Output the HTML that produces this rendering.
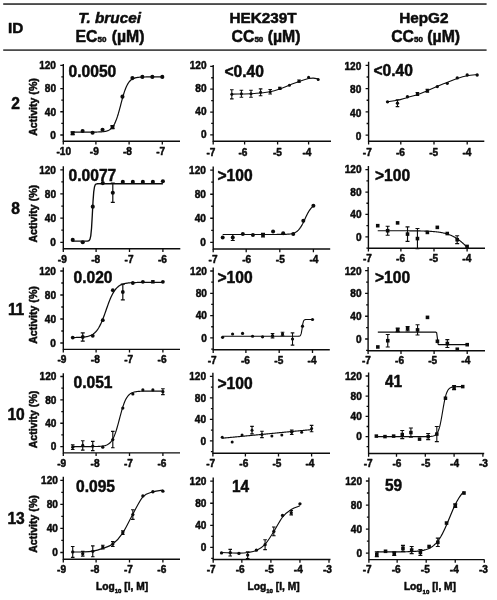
<!DOCTYPE html>
<html lang="en"><head><meta charset="utf-8"><title>Activity table</title>
<style>
html,body{margin:0;padding:0;background:#fff;}
body{width:497px;height:600px;overflow:hidden;}
svg{display:block;filter:blur(.4px);font-family:"Liberation Sans",Arial,Helvetica,sans-serif;font-weight:bold;fill:#0c0c0c;}
text{stroke:#0c0c0c;stroke-width:.5px;stroke-linejoin:round;}
.t{font-size:11px;}
.v{font-size:16.6px;}
.h{font-size:15.3px;}
.h2{font-size:15.8px;}
.s{font-size:8px;}
.id{font-size:17px;}
.a{font-size:10.6px;}
.xl{font-size:10.2px;}
.xs{font-size:6.1px;}
</style></head><body>
<svg width="497" height="600" viewBox="0 0 497 600">
<rect width="497" height="600" fill="#fff"/>
<rect x="3.2" y="3.2" width="483.4" height="1.7" fill="#383838"/>
<rect x="3.2" y="49.3" width="483.4" height="1.6" fill="#383838"/>
<text x="8" y="33" class="h">ID</text>
<text x="109.6" y="22.8" text-anchor="middle" class="h" font-style="italic">T. brucei</text>
<text x="110" y="42.1" text-anchor="middle" class="h2" word-spacing="1">EC<tspan class="s">50</tspan> (µM)</text>
<text x="263" y="22.8" text-anchor="middle" class="h">HEK239T</text>
<text x="266" y="42.1" text-anchor="middle" class="h2">CC<tspan class="s">50</tspan> (µM)</text>
<text x="423.8" y="22.8" text-anchor="middle" class="h">HepG2</text>
<text x="425.6" y="42.1" text-anchor="middle" class="h2">CC<tspan class="s">50</tspan> (µM)</text>
<text transform="translate(15.5 109) scale(.92 1)" text-anchor="middle" class="id">2</text>
<text transform="translate(15.5 214) scale(.92 1)" text-anchor="middle" class="id">8</text>
<text transform="translate(16.0 315.3) scale(.92 1)" text-anchor="middle" class="id" letter-spacing="-.3">11</text>
<text transform="translate(16.0 419.8) scale(.92 1)" text-anchor="middle" class="id" letter-spacing="-.3">10</text>
<text transform="translate(16.0 524.3) scale(.92 1)" text-anchor="middle" class="id" letter-spacing="-.3">13</text>
<text transform="translate(36.5 107) rotate(-90)" text-anchor="middle" class="a">Activity (%)</text>
<text transform="translate(36.5 213.7) rotate(-90)" text-anchor="middle" class="a">Activity (%)</text>
<text transform="translate(36.5 315) rotate(-90)" text-anchor="middle" class="a">Activity (%)</text>
<text transform="translate(36.5 419.5) rotate(-90)" text-anchor="middle" class="a">Activity (%)</text>
<text transform="translate(36.5 524) rotate(-90)" text-anchor="middle" class="a">Activity (%)</text>
<g>
<path d="M63.3 63.9V141.3H180" fill="none" stroke="#0c0c0c" stroke-width="1.4"/>
<path d="M63.3 65.3h-3M63.3 76.92h-2M63.3 88.53h-3M63.3 100.15h-2M63.3 111.77h-3M63.3 123.38h-2M63.3 135h-3" stroke="#0c0c0c" stroke-width="1.3" fill="none"/>
<text transform="translate(56 69.1) scale(.92 1)" text-anchor="end" class="t">120</text>
<text transform="translate(56 92.33) scale(.92 1)" text-anchor="end" class="t">80</text>
<text transform="translate(56 115.57) scale(.92 1)" text-anchor="end" class="t">40</text>
<text transform="translate(56 138.8) scale(.92 1)" text-anchor="end" class="t">0</text>
<path d="M63.3 141.3v3.2M95.9 141.3v3.2M129.1 141.3v3.2M162.3 141.3v3.2" stroke="#0c0c0c" stroke-width="1.3" fill="none"/>
<text transform="translate(63.7 155.3) scale(.92 1)" text-anchor="middle" class="t">-10</text>
<text transform="translate(94.3 155.3) scale(.92 1)" text-anchor="middle" class="t">-9</text>
<text transform="translate(127.5 155.3) scale(.92 1)" text-anchor="middle" class="t">-8</text>
<text transform="translate(160.7 155.3) scale(.92 1)" text-anchor="middle" class="t">-7</text>
<path d="M72.66 132.1L73.41 132.1L74.15 132.1L74.9 132.1L75.65 132.1L76.4 132.1L77.14 132.1L77.89 132.1L78.64 132.1L79.38 132.1L80.13 132.1L80.88 132.09L81.62 132.09L82.37 132.09L83.12 132.09L83.87 132.09L84.61 132.09L85.36 132.09L86.11 132.09L86.85 132.09L87.6 132.09L88.35 132.09L89.09 132.09L89.84 132.09L90.59 132.08L91.34 132.08L92.08 132.08L92.83 132.07L93.58 132.07L94.32 132.06L95.07 132.05L95.82 132.04L96.56 132.03L97.31 132.01L98.06 132L98.81 131.97L99.55 131.94L100.3 131.91L101.05 131.87L101.79 131.81L102.54 131.75L103.29 131.67L104.03 131.57L104.78 131.46L105.53 131.31L106.28 131.13L107.02 130.91L107.77 130.65L108.52 130.33L109.26 129.94L110.01 129.46L110.76 128.89L111.5 128.21L112.25 127.39L113 126.41L113.75 125.27L114.49 123.93L115.24 122.38L115.99 120.6L116.73 118.61L117.48 116.38L118.23 113.96L118.97 111.35L119.72 108.6L120.47 105.78L121.21 102.92L121.96 100.1L122.71 97.37L123.46 94.78L124.2 92.37L124.95 90.17L125.7 88.2L126.44 86.45L127.19 84.93L127.94 83.61L128.69 82.48L129.43 81.53L130.18 80.72L130.93 80.05L131.67 79.49L132.42 79.03L133.17 78.65L133.91 78.33L134.66 78.07L135.41 77.86L136.16 77.69L136.9 77.54L137.65 77.43L138.4 77.33L139.14 77.25L139.89 77.19L140.64 77.14L141.38 77.1L142.13 77.06L142.88 77.04L143.62 77.01L144.37 77L145.12 76.98L145.87 76.97L146.61 76.96L147.36 76.95L148.11 76.94L148.85 76.94L149.6 76.94L150.35 76.93L151.09 76.93L151.84 76.93L152.59 76.92L153.34 76.92L154.08 76.92L154.83 76.92L155.58 76.92L156.32 76.92L157.07 76.92L157.82 76.92L158.56 76.92L159.31 76.92L160.06 76.92L160.81 76.92L161.55 76.92L162.3 76.92" fill="none" stroke="#0c0c0c" stroke-width="1.2" stroke-linejoin="round"/>
<rect x="70.77" y="131.37" width="3.77" height="3.77" fill="#0c0c0c"/>
<circle cx="82.62" cy="130.93" r="2.05" fill="#0c0c0c"/>
<circle cx="92.58" cy="132.68" r="2.05" fill="#0c0c0c"/>
<circle cx="102.54" cy="129.77" r="2.05" fill="#0c0c0c"/>
<rect x="110.61" y="125.27" width="3.77" height="3.77" fill="#0c0c0c"/>
<circle cx="122.46" cy="96.66" r="2.05" fill="#0c0c0c"/>
<circle cx="132.42" cy="78.08" r="2.05" fill="#0c0c0c"/>
<circle cx="142.38" cy="76.92" r="2.05" fill="#0c0c0c"/>
<circle cx="152.34" cy="76.92" r="2.05" fill="#0c0c0c"/>
<circle cx="162.3" cy="76.92" r="2.05" fill="#0c0c0c"/>
<path d="M72.66 131.81V134.71M70.66 131.81h4M70.66 134.71h4M112.5 125.71V128.61M110.5 125.71h4M110.5 128.61h4" stroke="#0c0c0c" stroke-width="1.2" fill="none"/>
<text transform="translate(68.6 76.6) scale(.94 1)" class="v">0.0050</text>
</g>
<g>
<path d="M213.2 64.9V141.3H331" fill="none" stroke="#0c0c0c" stroke-width="1.4"/>
<path d="M213.2 66.3h-3M213.2 77.73h-2M213.2 89.17h-3M213.2 100.6h-2M213.2 112.03h-3M213.2 123.47h-2M213.2 134.9h-3" stroke="#0c0c0c" stroke-width="1.3" fill="none"/>
<text transform="translate(206.6 69.4) scale(.92 1)" text-anchor="end" class="t">120</text>
<text transform="translate(206.6 92.27) scale(.92 1)" text-anchor="end" class="t">80</text>
<text transform="translate(206.6 115.13) scale(.92 1)" text-anchor="end" class="t">40</text>
<text transform="translate(206.6 138) scale(.92 1)" text-anchor="end" class="t">0</text>
<path d="M213.2 141.3v3.2M244.6 141.3v3.2M277.6 141.3v3.2M308.6 141.3v3.2" stroke="#0c0c0c" stroke-width="1.3" fill="none"/>
<text transform="translate(211 155.8) scale(.92 1)" text-anchor="middle" class="t">-7</text>
<text transform="translate(243 155.8) scale(.92 1)" text-anchor="middle" class="t">-6</text>
<text transform="translate(277.4 155.8) scale(.92 1)" text-anchor="middle" class="t">-5</text>
<text transform="translate(307 155.8) scale(.92 1)" text-anchor="middle" class="t">-4</text>
<path d="M231.8 94.14C233.4 94.11 238.2 94.04 241.4 93.97C244.6 93.9 247.8 93.89 251 93.74C254.2 93.59 257.4 93.39 260.6 93.05C263.8 92.72 267 92.43 270.2 91.74C273.4 91.04 276.6 89.98 279.8 88.88C283 87.79 286.2 86.4 289.4 85.16C292.6 83.93 295.8 82.54 299 81.45C302.2 80.35 306.2 79.14 308.6 78.59C311 78.04 311.8 78.09 313.4 78.13C315 78.18 317.4 78.75 318.2 78.88" fill="none" stroke="#0c0c0c" stroke-width="1.05" stroke-linejoin="round"/>
<circle cx="231.8" cy="94.31" r="1.5" fill="#0c0c0c"/>
<circle cx="241.4" cy="93.74" r="1.5" fill="#0c0c0c"/>
<circle cx="251" cy="93.74" r="1.5" fill="#0c0c0c"/>
<circle cx="260.6" cy="92.31" r="1.5" fill="#0c0c0c"/>
<circle cx="270.2" cy="91.74" r="1.5" fill="#0c0c0c"/>
<circle cx="279.8" cy="88.31" r="1.5" fill="#0c0c0c"/>
<circle cx="289.4" cy="85.16" r="1.5" fill="#0c0c0c"/>
<circle cx="299" cy="81.16" r="1.5" fill="#0c0c0c"/>
<circle cx="308.6" cy="77.16" r="1.5" fill="#0c0c0c"/>
<circle cx="318.2" cy="79.45" r="1.5" fill="#0c0c0c"/>
<path d="M231.8 89.74V98.88M230 89.74h3.6M230 98.88h3.6M241.4 90.31V97.17M239.6 90.31h3.6M239.6 97.17h3.6M251 90.31V97.17M249.2 90.31h3.6M249.2 97.17h3.6M260.6 88.88V95.74M258.8 88.88h3.6M258.8 95.74h3.6M270.2 89.45V94.03M268.4 89.45h3.6M268.4 94.03h3.6M279.8 87.17V89.45M278 87.17h3.6M278 89.45h3.6M299 80.02V82.31M297.2 80.02h3.6M297.2 82.31h3.6" stroke="#0c0c0c" stroke-width="1.05" fill="none"/>
<text transform="translate(224.5 76.6) scale(.94 1)" class="v">&lt;0.40</text>
</g>
<g>
<path d="M368.6 61.8V141.3H484.3" fill="none" stroke="#0c0c0c" stroke-width="1.4"/>
<path d="M368.6 65.4h-3M368.6 77.02h-2M368.6 88.63h-3M368.6 100.25h-2M368.6 111.87h-3M368.6 123.48h-2M368.6 135.1h-3" stroke="#0c0c0c" stroke-width="1.3" fill="none"/>
<text transform="translate(361.3 70.2) scale(.92 1)" text-anchor="end" class="t">120</text>
<text transform="translate(361.3 93.43) scale(.92 1)" text-anchor="end" class="t">80</text>
<text transform="translate(361.3 116.67) scale(.92 1)" text-anchor="end" class="t">40</text>
<text transform="translate(361.3 139.9) scale(.92 1)" text-anchor="end" class="t">0</text>
<path d="M368.6 141.3v3.2M400.8 141.3v3.2M434 141.3v3.2M467.2 141.3v3.2" stroke="#0c0c0c" stroke-width="1.3" fill="none"/>
<text transform="translate(367.3 155.8) scale(.92 1)" text-anchor="middle" class="t">-7</text>
<text transform="translate(400.5 155.8) scale(.92 1)" text-anchor="middle" class="t">-6</text>
<text transform="translate(433.7 155.8) scale(.92 1)" text-anchor="middle" class="t">-5</text>
<text transform="translate(466.9 155.8) scale(.92 1)" text-anchor="middle" class="t">-4</text>
<path d="M387.52 101.82C389.18 101.56 394.16 100.98 397.48 100.25C400.8 99.52 404.12 98.39 407.44 97.46C410.76 96.53 414.08 95.79 417.4 94.67C420.72 93.56 424.04 92.18 427.36 90.78C430.68 89.39 434 87.7 437.32 86.31C440.64 84.92 443.96 83.73 447.28 82.42C450.6 81.11 453.92 79.59 457.24 78.47C460.56 77.35 463.88 76.33 467.2 75.68C470.52 75.03 475.5 74.76 477.16 74.58" fill="none" stroke="#0c0c0c" stroke-width="1.05" stroke-linejoin="round"/>
<circle cx="387.52" cy="101.82" r="1.65" fill="#0c0c0c"/>
<circle cx="397.48" cy="103.15" r="1.65" fill="#0c0c0c"/>
<circle cx="407.44" cy="96.77" r="1.65" fill="#0c0c0c"/>
<rect x="415.88" y="92.46" width="3.04" height="3.04" fill="#0c0c0c"/>
<rect x="425.84" y="89.15" width="3.04" height="3.04" fill="#0c0c0c"/>
<circle cx="437.32" cy="86.6" r="1.65" fill="#0c0c0c"/>
<circle cx="447.28" cy="83.29" r="1.65" fill="#0c0c0c"/>
<circle cx="457.24" cy="77.89" r="1.65" fill="#0c0c0c"/>
<circle cx="467.2" cy="74.98" r="1.65" fill="#0c0c0c"/>
<circle cx="477.16" cy="74.98" r="1.65" fill="#0c0c0c"/>
<path d="M397.48 99.67V106.64M395.68 99.67h3.6M395.68 106.64h3.6M417.4 92.52V95.43M415.6 92.52h3.6M415.6 95.43h3.6M427.36 89.21V92.12M425.56 89.21h3.6M425.56 92.12h3.6" stroke="#0c0c0c" stroke-width="1.05" fill="none"/>
<text transform="translate(373.5 75.5) scale(.94 1)" class="v">&lt;0.40</text>
</g>
<g>
<path d="M63.3 166.2V248.7H180.3" fill="none" stroke="#0c0c0c" stroke-width="1.4"/>
<path d="M63.3 169.8h-3M63.3 181.88h-2M63.3 193.97h-3M63.3 206.05h-2M63.3 218.13h-3M63.3 230.22h-2M63.3 242.3h-3" stroke="#0c0c0c" stroke-width="1.3" fill="none"/>
<text transform="translate(56 173.6) scale(.92 1)" text-anchor="end" class="t">120</text>
<text transform="translate(56 197.77) scale(.92 1)" text-anchor="end" class="t">80</text>
<text transform="translate(56 221.93) scale(.92 1)" text-anchor="end" class="t">40</text>
<text transform="translate(56 246.1) scale(.92 1)" text-anchor="end" class="t">0</text>
<path d="M63.3 248.7v3.2M96.1 248.7v3.2M129.5 248.7v3.2M162.9 248.7v3.2" stroke="#0c0c0c" stroke-width="1.3" fill="none"/>
<text transform="translate(62.3 262.7) scale(.92 1)" text-anchor="middle" class="t">-9</text>
<text transform="translate(95.7 262.7) scale(.92 1)" text-anchor="middle" class="t">-8</text>
<text transform="translate(129.1 262.7) scale(.92 1)" text-anchor="middle" class="t">-7</text>
<text transform="translate(162.5 262.7) scale(.92 1)" text-anchor="middle" class="t">-6</text>
<path d="M72.72 241.09L73.47 241.09L74.22 241.09L74.97 241.09L75.73 241.09L76.48 241.09L77.23 241.09L77.98 241.09L78.73 241.09L79.48 241.09L80.24 241.09L80.99 241.09L81.74 241.09L82.49 241.09L83.24 241.09L83.99 241.09L84.74 241.09L85.5 241.09L86.25 241.08L87 241.06L87.75 241L88.5 240.84L89.25 240.38L90 239.12L90.76 235.87L91.51 228.47L92.26 215.68L93.01 201.42L93.76 191.55L94.51 186.75L95.26 184.82L96.02 184.1L96.77 183.84L97.52 183.75L98.27 183.71L99.02 183.7L99.77 183.7L100.53 183.7L101.28 183.7L102.03 183.7L102.78 183.7L103.53 183.7L104.28 183.7L105.03 183.7L105.79 183.7L106.54 183.7L107.29 183.7L108.04 183.7L108.79 183.7L109.54 183.7L110.3 183.7L111.05 183.7L111.8 183.7L112.55 183.7L113.3 183.7L114.05 183.7L114.8 183.7L115.56 183.7L116.31 183.7L117.06 183.7L117.81 183.7L118.56 183.7L119.31 183.7L120.06 183.7L120.82 183.7L121.57 183.7L122.32 183.7L123.07 183.7L123.82 183.7L124.57 183.7L125.32 183.7L126.08 183.7L126.83 183.7L127.58 183.7L128.33 183.7L129.08 183.7L129.83 183.7L130.59 183.7L131.34 183.7L132.09 183.7L132.84 183.7L133.59 183.7L134.34 183.7L135.09 183.7L135.85 183.7L136.6 183.7L137.35 183.7L138.1 183.7L138.85 183.7L139.6 183.7L140.35 183.7L141.11 183.7L141.86 183.7L142.61 183.7L143.36 183.7L144.11 183.7L144.86 183.7L145.62 183.7L146.37 183.7L147.12 183.7L147.87 183.7L148.62 183.7L149.37 183.7L150.12 183.7L150.88 183.7L151.63 183.7L152.38 183.7L153.13 183.7L153.88 183.7L154.63 183.7L155.38 183.7L156.14 183.7L156.89 183.7L157.64 183.7L158.39 183.7L159.14 183.7L159.89 183.7L160.65 183.7L161.4 183.7L162.15 183.7L162.9 183.7" fill="none" stroke="#0c0c0c" stroke-width="1.35" stroke-linejoin="round"/>
<circle cx="72.72" cy="239.88" r="2.05" fill="#0c0c0c"/>
<circle cx="82.74" cy="242.3" r="2.05" fill="#0c0c0c"/>
<circle cx="92.76" cy="206.65" r="2.05" fill="#0c0c0c"/>
<circle cx="102.78" cy="183.09" r="2.05" fill="#0c0c0c"/>
<circle cx="112.8" cy="192.76" r="2.05" fill="#0c0c0c"/>
<circle cx="122.82" cy="181.88" r="2.05" fill="#0c0c0c"/>
<circle cx="132.84" cy="181.88" r="2.05" fill="#0c0c0c"/>
<circle cx="142.86" cy="181.88" r="2.05" fill="#0c0c0c"/>
<circle cx="152.88" cy="181.88" r="2.05" fill="#0c0c0c"/>
<circle cx="162.9" cy="181.28" r="2.05" fill="#0c0c0c"/>
<path d="M112.8 183.09V202.43M110.8 183.09h4M110.8 202.43h4" stroke="#0c0c0c" stroke-width="1.2" fill="none"/>
<text transform="translate(68.6 181.4) scale(.94 1)" class="v">0.0077</text>
</g>
<g>
<path d="M213.2 166.6V249H330.2" fill="none" stroke="#0c0c0c" stroke-width="1.4"/>
<path d="M213.2 170.2h-3M213.2 182.22h-2M213.2 194.23h-3M213.2 206.25h-2M213.2 218.27h-3M213.2 230.28h-2M213.2 242.3h-3" stroke="#0c0c0c" stroke-width="1.3" fill="none"/>
<text transform="translate(205.9 174) scale(.92 1)" text-anchor="end" class="t">120</text>
<text transform="translate(205.9 198.03) scale(.92 1)" text-anchor="end" class="t">80</text>
<text transform="translate(205.9 222.07) scale(.92 1)" text-anchor="end" class="t">40</text>
<text transform="translate(205.9 246.1) scale(.92 1)" text-anchor="end" class="t">0</text>
<path d="M213.2 249v3.2M246.2 249v3.2M279.8 249v3.2M313.4 249v3.2" stroke="#0c0c0c" stroke-width="1.3" fill="none"/>
<text transform="translate(213.1 263) scale(.92 1)" text-anchor="middle" class="t">-7</text>
<text transform="translate(246.7 263) scale(.92 1)" text-anchor="middle" class="t">-6</text>
<text transform="translate(280.3 263) scale(.92 1)" text-anchor="middle" class="t">-5</text>
<text transform="translate(313.9 263) scale(.92 1)" text-anchor="middle" class="t">-4</text>
<path d="M222.68 234.49L223.44 234.49L224.19 234.49L224.95 234.49L225.7 234.49L226.46 234.49L227.22 234.49L227.97 234.49L228.73 234.49L229.48 234.49L230.24 234.49L231 234.49L231.75 234.49L232.51 234.49L233.26 234.49L234.02 234.49L234.78 234.49L235.53 234.49L236.29 234.49L237.04 234.49L237.8 234.49L238.56 234.49L239.31 234.49L240.07 234.49L240.82 234.49L241.58 234.49L242.34 234.49L243.09 234.49L243.85 234.49L244.6 234.49L245.36 234.49L246.12 234.49L246.87 234.49L247.63 234.49L248.38 234.49L249.14 234.49L249.9 234.49L250.65 234.49L251.41 234.49L252.16 234.49L252.92 234.49L253.68 234.49L254.43 234.49L255.19 234.49L255.94 234.49L256.7 234.49L257.46 234.49L258.21 234.49L258.97 234.49L259.72 234.49L260.48 234.49L261.24 234.49L261.99 234.49L262.75 234.49L263.5 234.49L264.26 234.49L265.02 234.49L265.77 234.49L266.53 234.49L267.28 234.49L268.04 234.49L268.8 234.49L269.55 234.49L270.31 234.49L271.06 234.49L271.82 234.49L272.58 234.48L273.33 234.48L274.09 234.48L274.84 234.48L275.6 234.48L276.36 234.48L277.11 234.47L277.87 234.47L278.62 234.47L279.38 234.46L280.14 234.45L280.89 234.45L281.65 234.44L282.4 234.43L283.16 234.41L283.92 234.39L284.67 234.37L285.43 234.34L286.18 234.31L286.94 234.27L287.7 234.22L288.45 234.16L289.21 234.08L289.96 233.99L290.72 233.88L291.48 233.74L292.23 233.57L292.99 233.37L293.74 233.12L294.5 232.83L295.26 232.47L296.01 232.04L296.77 231.53L297.52 230.92L298.28 230.21L299.04 229.39L299.79 228.44L300.55 227.37L301.3 226.17L302.06 224.84L302.82 223.41L303.57 221.89L304.33 220.3L305.08 218.69L305.84 217.08L306.6 215.5L307.35 214L308.11 212.59L308.86 211.29L309.62 210.12L310.38 209.07L311.13 208.15L311.89 207.35L312.64 206.67L313.4 206.09" fill="none" stroke="#0c0c0c" stroke-width="1.2" stroke-linejoin="round"/>
<circle cx="222.68" cy="237.49" r="2" fill="#0c0c0c"/>
<circle cx="232.76" cy="237.49" r="2" fill="#0c0c0c"/>
<circle cx="242.84" cy="233.89" r="2" fill="#0c0c0c"/>
<circle cx="252.92" cy="235.09" r="2" fill="#0c0c0c"/>
<circle cx="263" cy="235.09" r="2" fill="#0c0c0c"/>
<circle cx="273.08" cy="231.49" r="2" fill="#0c0c0c"/>
<circle cx="283.16" cy="233.29" r="2" fill="#0c0c0c"/>
<circle cx="293.24" cy="233.89" r="2" fill="#0c0c0c"/>
<circle cx="303.32" cy="220.67" r="2" fill="#0c0c0c"/>
<circle cx="313.4" cy="205.65" r="2" fill="#0c0c0c"/>
<path d="M232.76 234.49V240.5M230.76 234.49h4M230.76 240.5h4M263 233.29V236.89M261 233.29h4M261 236.89h4" stroke="#0c0c0c" stroke-width="1.2" fill="none"/>
<text transform="translate(217.5 181.4) scale(.94 1)" class="v">&gt;100</text>
</g>
<g>
<path d="M368.4 166V248.2H485" fill="none" stroke="#0c0c0c" stroke-width="1.4"/>
<path d="M368.4 169.6h-3M368.4 180.82h-2M368.4 192.03h-3M368.4 203.25h-2M368.4 214.47h-3M368.4 225.68h-2M368.4 236.9h-3M368.4 248.12h-2" stroke="#0c0c0c" stroke-width="1.3" fill="none"/>
<text transform="translate(361.6 173.4) scale(.92 1)" text-anchor="end" class="t">120</text>
<text transform="translate(361.6 195.83) scale(.92 1)" text-anchor="end" class="t">80</text>
<text transform="translate(361.6 218.27) scale(.92 1)" text-anchor="end" class="t">40</text>
<text transform="translate(361.6 240.7) scale(.92 1)" text-anchor="end" class="t">0</text>
<path d="M368.4 248.2v3.2M400.9 248.2v3.2M434 248.2v3.2M467.1 248.2v3.2" stroke="#0c0c0c" stroke-width="1.3" fill="none"/>
<text transform="translate(367.5 262.2) scale(.92 1)" text-anchor="middle" class="t">-7</text>
<text transform="translate(400.6 262.2) scale(.92 1)" text-anchor="middle" class="t">-6</text>
<text transform="translate(433.7 262.2) scale(.92 1)" text-anchor="middle" class="t">-5</text>
<text transform="translate(466.8 262.2) scale(.92 1)" text-anchor="middle" class="t">-4</text>
<path d="M377.73 230.73L378.47 230.73L379.22 230.73L379.96 230.73L380.71 230.73L381.45 230.73L382.2 230.73L382.94 230.74L383.69 230.74L384.43 230.74L385.18 230.74L385.92 230.74L386.67 230.74L387.41 230.74L388.16 230.74L388.9 230.74L389.65 230.74L390.39 230.74L391.14 230.74L391.88 230.74L392.62 230.74L393.37 230.74L394.11 230.74L394.86 230.75L395.6 230.75L396.35 230.75L397.09 230.75L397.84 230.75L398.58 230.75L399.33 230.75L400.07 230.76L400.82 230.76L401.56 230.76L402.31 230.76L403.05 230.77L403.8 230.77L404.54 230.77L405.29 230.78L406.03 230.78L406.78 230.78L407.52 230.79L408.26 230.79L409.01 230.8L409.75 230.8L410.5 230.81L411.24 230.81L411.99 230.82L412.73 230.83L413.48 230.84L414.22 230.84L414.97 230.85L415.71 230.86L416.46 230.87L417.2 230.88L417.95 230.9L418.69 230.91L419.44 230.92L420.18 230.94L420.93 230.96L421.67 230.98L422.41 231L423.16 231.02L423.9 231.04L424.65 231.06L425.39 231.09L426.14 231.12L426.88 231.15L427.63 231.18L428.37 231.22L429.12 231.26L429.86 231.3L430.61 231.35L431.35 231.4L432.1 231.45L432.84 231.51L433.59 231.57L434.33 231.63L435.08 231.7L435.82 231.78L436.57 231.86L437.31 231.95L438.05 232.05L438.8 232.15L439.54 232.26L440.29 232.38L441.03 232.51L441.78 232.64L442.52 232.79L443.27 232.95L444.01 233.11L444.76 233.29L445.5 233.49L446.25 233.69L446.99 233.91L447.74 234.15L448.48 234.4L449.23 234.67L449.97 234.95L450.72 235.25L451.46 235.57L452.2 235.91L452.95 236.27L453.69 236.66L454.44 237.06L455.18 237.48L455.93 237.93L456.67 238.4L457.42 238.89L458.16 239.41L458.91 239.95L459.65 240.51L460.4 241.09L461.14 241.7L461.89 242.33L462.63 242.98L463.38 243.65L464.12 244.33L464.87 245.04L465.61 245.76L466.36 246.49L467.1 247.24" fill="none" stroke="#0c0c0c" stroke-width="1.15" stroke-linejoin="round"/>
<rect x="375.94" y="223.89" width="3.59" height="3.59" fill="#0c0c0c"/>
<rect x="385.87" y="228.94" width="3.59" height="3.59" fill="#0c0c0c"/>
<rect x="395.8" y="221.09" width="3.59" height="3.59" fill="#0c0c0c"/>
<rect x="405.73" y="232.3" width="3.59" height="3.59" fill="#0c0c0c"/>
<rect x="415.66" y="236.79" width="3.59" height="3.59" fill="#0c0c0c"/>
<rect x="425.59" y="230.62" width="3.59" height="3.59" fill="#0c0c0c"/>
<rect x="435.52" y="225.57" width="3.59" height="3.59" fill="#0c0c0c"/>
<rect x="445.45" y="231.74" width="3.59" height="3.59" fill="#0c0c0c"/>
<rect x="455.38" y="237.91" width="3.59" height="3.59" fill="#0c0c0c"/>
<rect x="465.31" y="244.64" width="3.59" height="3.59" fill="#0c0c0c"/>
<path d="M387.66 226.24V235.22M385.66 226.24h4M385.66 235.22h4M407.52 226.81V241.39M405.52 226.81h4M405.52 241.39h4M417.45 228.49V248.68M415.45 228.49h4M415.45 248.68h4M457.17 235.78V243.63M455.17 235.78h4M455.17 243.63h4" stroke="#0c0c0c" stroke-width="1.15" fill="none"/>
<text transform="translate(375 181.4) scale(.94 1)" class="v">&gt;100</text>
</g>
<g>
<path d="M63.3 267.4V349.4H180" fill="none" stroke="#0c0c0c" stroke-width="1.4"/>
<path d="M63.3 271h-3M63.3 283h-2M63.3 295h-3M63.3 307h-2M63.3 319h-3M63.3 331h-2M63.3 343h-3" stroke="#0c0c0c" stroke-width="1.3" fill="none"/>
<text transform="translate(56 275.3) scale(.92 1)" text-anchor="end" class="t">120</text>
<text transform="translate(56 299.3) scale(.92 1)" text-anchor="end" class="t">80</text>
<text transform="translate(56 323.3) scale(.92 1)" text-anchor="end" class="t">40</text>
<text transform="translate(56 347.3) scale(.92 1)" text-anchor="end" class="t">0</text>
<path d="M63.3 349.4v3.2M96.1 349.4v3.2M129.5 349.4v3.2M162.9 349.4v3.2" stroke="#0c0c0c" stroke-width="1.3" fill="none"/>
<text transform="translate(61.9 363.4) scale(.92 1)" text-anchor="middle" class="t">-9</text>
<text transform="translate(95.3 363.4) scale(.92 1)" text-anchor="middle" class="t">-8</text>
<text transform="translate(128.7 363.4) scale(.92 1)" text-anchor="middle" class="t">-7</text>
<text transform="translate(162.1 363.4) scale(.92 1)" text-anchor="middle" class="t">-6</text>
<path d="M72.72 337.54L73.47 337.54L74.22 337.52L74.97 337.51L75.73 337.5L76.48 337.48L77.23 337.46L77.98 337.44L78.73 337.41L79.48 337.38L80.24 337.34L80.99 337.3L81.74 337.25L82.49 337.19L83.24 337.12L83.99 337.04L84.74 336.94L85.5 336.84L86.25 336.71L87 336.56L87.75 336.39L88.5 336.19L89.25 335.96L90 335.7L90.76 335.39L91.51 335.04L92.26 334.63L93.01 334.16L93.76 333.62L94.51 333.01L95.26 332.31L96.02 331.52L96.77 330.63L97.52 329.63L98.27 328.51L99.02 327.26L99.77 325.89L100.53 324.4L101.28 322.77L102.03 321.03L102.78 319.17L103.53 317.22L104.28 315.18L105.03 313.09L105.79 310.95L106.54 308.81L107.29 306.68L108.04 304.59L108.79 302.56L109.54 300.62L110.3 298.77L111.05 297.04L111.8 295.43L112.55 293.95L113.3 292.59L114.05 291.36L114.8 290.26L115.56 289.27L116.31 288.39L117.06 287.61L117.81 286.92L118.56 286.31L119.31 285.78L120.06 285.32L120.82 284.92L121.57 284.57L122.32 284.27L123.07 284.01L123.82 283.78L124.57 283.59L125.32 283.42L126.08 283.28L126.83 283.15L127.58 283.04L128.33 282.95L129.08 282.87L129.83 282.81L130.59 282.75L131.34 282.7L132.09 282.66L132.84 282.62L133.59 282.59L134.34 282.56L135.09 282.54L135.85 282.52L136.6 282.5L137.35 282.49L138.1 282.47L138.85 282.46L139.6 282.45L140.35 282.45L141.11 282.44L141.86 282.43L142.61 282.43L143.36 282.42L144.11 282.42L144.86 282.42L145.62 282.42L146.37 282.41L147.12 282.41L147.87 282.41L148.62 282.41L149.37 282.41L150.12 282.41L150.88 282.41L151.63 282.4L152.38 282.4L153.13 282.4L153.88 282.4L154.63 282.4L155.38 282.4L156.14 282.4L156.89 282.4L157.64 282.4L158.39 282.4L159.14 282.4L159.89 282.4L160.65 282.4L161.4 282.4L162.15 282.4L162.9 282.4" fill="none" stroke="#0c0c0c" stroke-width="1.25" stroke-linejoin="round"/>
<circle cx="72.72" cy="337.6" r="1.9" fill="#0c0c0c"/>
<circle cx="82.74" cy="337" r="1.9" fill="#0c0c0c"/>
<circle cx="92.76" cy="335.8" r="1.9" fill="#0c0c0c"/>
<circle cx="102.78" cy="320.2" r="1.9" fill="#0c0c0c"/>
<circle cx="112.8" cy="290.2" r="1.9" fill="#0c0c0c"/>
<circle cx="122.82" cy="292" r="1.9" fill="#0c0c0c"/>
<circle cx="132.84" cy="283" r="1.9" fill="#0c0c0c"/>
<circle cx="142.86" cy="281.8" r="1.9" fill="#0c0c0c"/>
<rect x="151.13" y="280.05" width="3.5" height="3.5" fill="#0c0c0c"/>
<circle cx="162.9" cy="281.8" r="1.9" fill="#0c0c0c"/>
<path d="M82.74 332.8V341.2M80.74 332.8h4M80.74 341.2h4M122.82 284.2V299.8M120.82 284.2h4M120.82 299.8h4" stroke="#0c0c0c" stroke-width="1.2" fill="none"/>
<text transform="translate(73.5 282.6) scale(.94 1)" class="v">0.020</text>
</g>
<g>
<path d="M213.2 267.4V349.8H329.8" fill="none" stroke="#0c0c0c" stroke-width="1.4"/>
<path d="M213.2 271h-3M213.2 282.15h-2M213.2 293.3h-3M213.2 304.45h-2M213.2 315.6h-3M213.2 326.75h-2M213.2 337.9h-3M213.2 349.05h-2" stroke="#0c0c0c" stroke-width="1.3" fill="none"/>
<text transform="translate(206.9 274.8) scale(.92 1)" text-anchor="end" class="t">120</text>
<text transform="translate(206.9 297.1) scale(.92 1)" text-anchor="end" class="t">80</text>
<text transform="translate(206.9 319.4) scale(.92 1)" text-anchor="end" class="t">40</text>
<text transform="translate(206.9 341.7) scale(.92 1)" text-anchor="end" class="t">0</text>
<path d="M213.2 349.8v3.2M245.9 349.8v3.2M279.2 349.8v3.2M312.5 349.8v3.2" stroke="#0c0c0c" stroke-width="1.3" fill="none"/>
<text transform="translate(212.2 363.6) scale(.92 1)" text-anchor="middle" class="t">-7</text>
<text transform="translate(245.5 363.6) scale(.92 1)" text-anchor="middle" class="t">-6</text>
<text transform="translate(278.8 363.6) scale(.92 1)" text-anchor="middle" class="t">-5</text>
<text transform="translate(312.1 363.6) scale(.92 1)" text-anchor="middle" class="t">-4</text>
<path d="M222.59 336.23L223.34 336.23L224.09 336.23L224.84 336.23L225.59 336.23L226.34 336.23L227.09 336.23L227.83 336.23L228.58 336.23L229.33 336.23L230.08 336.23L230.83 336.23L231.58 336.23L232.33 336.23L233.08 336.23L233.83 336.23L234.58 336.23L235.33 336.23L236.08 336.23L236.83 336.23L237.57 336.23L238.32 336.23L239.07 336.23L239.82 336.23L240.57 336.23L241.32 336.23L242.07 336.23L242.82 336.23L243.57 336.23L244.32 336.23L245.07 336.23L245.82 336.23L246.57 336.23L247.32 336.23L248.06 336.23L248.81 336.23L249.56 336.23L250.31 336.23L251.06 336.23L251.81 336.23L252.56 336.23L253.31 336.23L254.06 336.23L254.81 336.23L255.56 336.23L256.31 336.23L257.06 336.23L257.8 336.23L258.55 336.23L259.3 336.23L260.05 336.23L260.8 336.23L261.55 336.23L262.3 336.23L263.05 336.23L263.8 336.23L264.55 336.23L265.3 336.23L266.05 336.23L266.8 336.23L267.55 336.23L268.29 336.23L269.04 336.23L269.79 336.23L270.54 336.23L271.29 336.23L272.04 336.23L272.79 336.23L273.54 336.23L274.29 336.23L275.04 336.23L275.79 336.23L276.54 336.23L277.29 336.23L278.03 336.23L278.78 336.23L279.53 336.23L280.28 336.23L281.03 336.23L281.78 336.23L282.53 336.23L283.28 336.23L284.03 336.23L284.78 336.23L285.53 336.23L286.28 336.23L287.03 336.23L287.77 336.23L288.52 336.23L289.27 336.23L290.02 336.23L290.77 336.23L291.52 336.23L292.27 336.23L293.02 336.23L293.77 336.23L294.52 336.23L295.27 336.23L296.02 336.23L296.77 336.23L297.51 336.22L298.26 336.21L299.01 336.16L299.76 335.97L300.51 335.34L301.26 333.38L302.01 329.06L302.76 323.98L303.51 321.02L304.26 319.95L305.01 319.63L305.76 319.54L306.51 319.51L307.26 319.51L308 319.5L308.75 319.5L309.5 319.5L310.25 319.5L311 319.5L311.75 319.5L312.5 319.5" fill="none" stroke="#0c0c0c" stroke-width="1.08" stroke-linejoin="round"/>
<circle cx="222.59" cy="337.34" r="1.6" fill="#0c0c0c"/>
<circle cx="232.58" cy="334" r="1.6" fill="#0c0c0c"/>
<circle cx="242.57" cy="333.44" r="1.6" fill="#0c0c0c"/>
<circle cx="252.56" cy="336.23" r="1.6" fill="#0c0c0c"/>
<circle cx="262.55" cy="336.78" r="1.6" fill="#0c0c0c"/>
<circle cx="272.54" cy="335.67" r="1.6" fill="#0c0c0c"/>
<circle cx="282.53" cy="334" r="1.6" fill="#0c0c0c"/>
<circle cx="292.52" cy="339.01" r="1.6" fill="#0c0c0c"/>
<circle cx="302.51" cy="326.19" r="1.6" fill="#0c0c0c"/>
<circle cx="312.5" cy="319.5" r="1.6" fill="#0c0c0c"/>
<path d="M272.54 333.44V337.9M270.74 333.44h3.6M270.74 337.9h3.6M282.53 332.32V335.67M280.73 332.32h3.6M280.73 335.67h3.6M292.52 332.88V345.15M290.72 332.88h3.6M290.72 345.15h3.6" stroke="#0c0c0c" stroke-width="1.08" fill="none"/>
<text transform="translate(217.5 282.6) scale(.94 1)" class="v">&gt;100</text>
</g>
<g>
<path d="M368.1 267.1V350.8H485" fill="none" stroke="#0c0c0c" stroke-width="1.4"/>
<path d="M368.1 270.7h-3M368.1 282.08h-2M368.1 293.47h-3M368.1 304.85h-2M368.1 316.23h-3M368.1 327.62h-2M368.1 339h-3M368.1 350.38h-2" stroke="#0c0c0c" stroke-width="1.3" fill="none"/>
<text transform="translate(361.6 274.5) scale(.92 1)" text-anchor="end" class="t">120</text>
<text transform="translate(361.6 297.27) scale(.92 1)" text-anchor="end" class="t">80</text>
<text transform="translate(361.6 320.03) scale(.92 1)" text-anchor="end" class="t">40</text>
<text transform="translate(361.6 342.8) scale(.92 1)" text-anchor="end" class="t">0</text>
<path d="M368.1 350.8v3.2M401 350.8v3.2M434.1 350.8v3.2M467.2 350.8v3.2" stroke="#0c0c0c" stroke-width="1.3" fill="none"/>
<text transform="translate(366.5 363.8) scale(.92 1)" text-anchor="middle" class="t">-7</text>
<text transform="translate(399.6 363.8) scale(.92 1)" text-anchor="middle" class="t">-6</text>
<text transform="translate(432.7 363.8) scale(.92 1)" text-anchor="middle" class="t">-5</text>
<text transform="translate(465.8 363.8) scale(.92 1)" text-anchor="middle" class="t">-4</text>
<path d="M377.83 332.17L378.57 332.17L379.32 332.17L380.06 332.17L380.81 332.17L381.55 332.17L382.3 332.17L383.04 332.17L383.79 332.17L384.53 332.17L385.28 332.17L386.02 332.17L386.77 332.17L387.51 332.17L388.26 332.17L389 332.17L389.75 332.17L390.49 332.17L391.24 332.17L391.98 332.17L392.72 332.17L393.47 332.17L394.21 332.17L394.96 332.17L395.7 332.17L396.45 332.17L397.19 332.17L397.94 332.17L398.68 332.17L399.43 332.17L400.17 332.17L400.92 332.17L401.66 332.17L402.41 332.17L403.15 332.17L403.9 332.17L404.64 332.17L405.39 332.17L406.13 332.17L406.88 332.17L407.62 332.17L408.36 332.17L409.11 332.17L409.85 332.17L410.6 332.17L411.34 332.17L412.09 332.17L412.83 332.17L413.58 332.17L414.32 332.17L415.07 332.17L415.81 332.17L416.56 332.17L417.3 332.17L418.05 332.17L418.79 332.17L419.54 332.17L420.28 332.17L421.03 332.17L421.77 332.17L422.51 332.17L423.26 332.17L424 332.17L424.75 332.17L425.49 332.17L426.24 332.17L426.98 332.17L427.73 332.17L428.47 332.17L429.22 332.17L429.96 332.17L430.71 332.17L431.45 332.17L432.2 332.17L432.94 332.17L433.69 332.17L434.43 332.17L435.18 332.17L435.92 332.19L436.67 332.71L437.41 338.43L438.15 344.16L438.9 344.67L439.64 344.69L440.39 344.69L441.13 344.69L441.88 344.69L442.62 344.69L443.37 344.69L444.11 344.69L444.86 344.69L445.6 344.69L446.35 344.69L447.09 344.69L447.84 344.69L448.58 344.69L449.33 344.69L450.07 344.69L450.82 344.69L451.56 344.69L452.3 344.69L453.05 344.69L453.79 344.69L454.54 344.69L455.28 344.69L456.03 344.69L456.77 344.69L457.52 344.69L458.26 344.69L459.01 344.69L459.75 344.69L460.5 344.69L461.24 344.69L461.99 344.69L462.73 344.69L463.48 344.69L464.22 344.69L464.97 344.69L465.71 344.69L466.46 344.69L467.2 344.69" fill="none" stroke="#0c0c0c" stroke-width="1.15" stroke-linejoin="round"/>
<rect x="376.04" y="345.17" width="3.59" height="3.59" fill="#0c0c0c"/>
<rect x="385.97" y="338.91" width="3.59" height="3.59" fill="#0c0c0c"/>
<rect x="395.9" y="328.1" width="3.59" height="3.59" fill="#0c0c0c"/>
<rect x="405.83" y="326.96" width="3.59" height="3.59" fill="#0c0c0c"/>
<rect x="415.76" y="328.1" width="3.59" height="3.59" fill="#0c0c0c"/>
<rect x="425.69" y="315.58" width="3.59" height="3.59" fill="#0c0c0c"/>
<rect x="435.62" y="339.48" width="3.59" height="3.59" fill="#0c0c0c"/>
<rect x="445.55" y="341.76" width="3.59" height="3.59" fill="#0c0c0c"/>
<rect x="455.48" y="347.45" width="3.59" height="3.59" fill="#0c0c0c"/>
<rect x="465.41" y="342.9" width="3.59" height="3.59" fill="#0c0c0c"/>
<path d="M387.76 334.45V346.97M385.76 334.45h4M385.76 346.97h4M397.69 328.19V331.6M395.69 328.19h4M395.69 331.6h4M407.62 326.48V331.03M405.62 326.48h4M405.62 331.03h4M417.55 324.77V335.02M415.55 324.77h4M415.55 335.02h4M447.34 339.57V347.54M445.34 339.57h4M445.34 347.54h4" stroke="#0c0c0c" stroke-width="1.15" fill="none"/>
<text transform="translate(375 282.6) scale(.94 1)" class="v">&gt;100</text>
</g>
<g>
<path d="M63.3 373.3V452.9H180" fill="none" stroke="#0c0c0c" stroke-width="1.4"/>
<path d="M63.3 376.5h-3M63.3 388.18h-2M63.3 399.87h-3M63.3 411.55h-2M63.3 423.23h-3M63.3 434.92h-2M63.3 446.6h-3" stroke="#0c0c0c" stroke-width="1.3" fill="none"/>
<text transform="translate(56.4 380.3) scale(.92 1)" text-anchor="end" class="t">120</text>
<text transform="translate(56.4 403.67) scale(.92 1)" text-anchor="end" class="t">80</text>
<text transform="translate(56.4 427.03) scale(.92 1)" text-anchor="end" class="t">40</text>
<text transform="translate(56.4 450.4) scale(.92 1)" text-anchor="end" class="t">0</text>
<path d="M63.3 452.9v3.2M96.1 452.9v3.2M129.5 452.9v3.2M162.9 452.9v3.2" stroke="#0c0c0c" stroke-width="1.3" fill="none"/>
<text transform="translate(61.7 466.9) scale(.92 1)" text-anchor="middle" class="t">-9</text>
<text transform="translate(95.1 466.9) scale(.92 1)" text-anchor="middle" class="t">-8</text>
<text transform="translate(128.5 466.9) scale(.92 1)" text-anchor="middle" class="t">-7</text>
<text transform="translate(161.9 466.9) scale(.92 1)" text-anchor="middle" class="t">-6</text>
<path d="M72.72 446.6L73.47 446.6L74.22 446.6L74.97 446.6L75.73 446.6L76.48 446.6L77.23 446.6L77.98 446.6L78.73 446.6L79.48 446.6L80.24 446.6L80.99 446.6L81.74 446.6L82.49 446.6L83.24 446.6L83.99 446.6L84.74 446.6L85.5 446.6L86.25 446.59L87 446.59L87.75 446.59L88.5 446.59L89.25 446.59L90 446.58L90.76 446.58L91.51 446.58L92.26 446.57L93.01 446.56L93.76 446.55L94.51 446.54L95.26 446.53L96.02 446.51L96.77 446.49L97.52 446.47L98.27 446.44L99.02 446.4L99.77 446.36L100.53 446.3L101.28 446.24L102.03 446.15L102.78 446.05L103.53 445.93L104.28 445.77L105.03 445.59L105.79 445.36L106.54 445.08L107.29 444.74L108.04 444.33L108.79 443.83L109.54 443.23L110.3 442.52L111.05 441.66L111.8 440.64L112.55 439.45L113.3 438.06L114.05 436.45L114.8 434.62L115.56 432.55L116.31 430.27L117.06 427.79L117.81 425.13L118.56 422.35L119.31 419.49L120.06 416.62L120.82 413.8L121.57 411.08L122.32 408.51L123.07 406.14L123.82 403.98L124.57 402.04L125.32 400.34L126.08 398.85L126.83 397.57L127.58 396.48L128.33 395.55L129.08 394.77L129.83 394.12L130.59 393.58L131.34 393.14L132.09 392.77L132.84 392.46L133.59 392.21L134.34 392.01L135.09 391.84L135.85 391.71L136.6 391.59L137.35 391.5L138.1 391.43L138.85 391.37L139.6 391.32L140.35 391.28L141.11 391.25L141.86 391.22L142.61 391.2L143.36 391.18L144.11 391.17L144.86 391.15L145.62 391.15L146.37 391.14L147.12 391.13L147.87 391.13L148.62 391.12L149.37 391.12L150.12 391.12L150.88 391.11L151.63 391.11L152.38 391.11L153.13 391.11L153.88 391.11L154.63 391.11L155.38 391.11L156.14 391.11L156.89 391.11L157.64 391.11L158.39 391.11L159.14 391.11L159.89 391.1L160.65 391.1L161.4 391.1L162.15 391.1L162.9 391.1" fill="none" stroke="#0c0c0c" stroke-width="1.15" stroke-linejoin="round"/>
<circle cx="72.72" cy="447.18" r="1.6" fill="#0c0c0c"/>
<circle cx="82.74" cy="445.43" r="1.6" fill="#0c0c0c"/>
<circle cx="92.76" cy="446.02" r="1.6" fill="#0c0c0c"/>
<circle cx="102.78" cy="447.18" r="1.6" fill="#0c0c0c"/>
<circle cx="112.8" cy="439.59" r="1.6" fill="#0c0c0c"/>
<circle cx="122.82" cy="408.05" r="1.6" fill="#0c0c0c"/>
<circle cx="132.84" cy="394.02" r="1.6" fill="#0c0c0c"/>
<circle cx="142.86" cy="389.94" r="1.6" fill="#0c0c0c"/>
<circle cx="152.88" cy="389.94" r="1.6" fill="#0c0c0c"/>
<circle cx="162.9" cy="391.69" r="1.6" fill="#0c0c0c"/>
<path d="M72.72 444.85V449.52M70.92 444.85h3.6M70.92 449.52h3.6M82.74 440.76V450.11M80.94 440.76h3.6M80.94 450.11h3.6M92.76 441.34V450.69M90.96 441.34h3.6M90.96 450.69h3.6M112.8 431.41V447.77M111 431.41h3.6M111 447.77h3.6M162.9 388.77V394.61M161.1 388.77h3.6M161.1 394.61h3.6" stroke="#0c0c0c" stroke-width="1.15" fill="none"/>
<text transform="translate(73.5 387.9) scale(.94 1)" class="v">0.051</text>
</g>
<g>
<path d="M212.9 372.8V453.3H330" fill="none" stroke="#0c0c0c" stroke-width="1.4"/>
<path d="M212.9 376.4h-3M212.9 387.15h-2M212.9 397.9h-3M212.9 408.65h-2M212.9 419.4h-3M212.9 430.15h-2M212.9 440.9h-3M212.9 451.65h-2" stroke="#0c0c0c" stroke-width="1.3" fill="none"/>
<text transform="translate(206.1 380.2) scale(.92 1)" text-anchor="end" class="t">120</text>
<text transform="translate(206.1 401.7) scale(.92 1)" text-anchor="end" class="t">80</text>
<text transform="translate(206.1 423.2) scale(.92 1)" text-anchor="end" class="t">40</text>
<text transform="translate(206.1 444.7) scale(.92 1)" text-anchor="end" class="t">0</text>
<path d="M212.9 453.3v3.2M245.4 453.3v3.2M278.5 453.3v3.2M311.6 453.3v3.2" stroke="#0c0c0c" stroke-width="1.3" fill="none"/>
<text transform="translate(210.7 467.1) scale(.92 1)" text-anchor="middle" class="t">-7</text>
<text transform="translate(243.8 467.1) scale(.92 1)" text-anchor="middle" class="t">-6</text>
<text transform="translate(276.9 467.1) scale(.92 1)" text-anchor="middle" class="t">-5</text>
<text transform="translate(310 467.1) scale(.92 1)" text-anchor="middle" class="t">-4</text>
<path d="M222.23 438.21L222.97 438.14L223.72 438.07L224.46 438L225.21 437.93L225.95 437.85L226.7 437.78L227.44 437.71L228.19 437.64L228.93 437.57L229.68 437.5L230.42 437.42L231.17 437.35L231.91 437.28L232.66 437.21L233.4 437.14L234.15 437.07L234.89 436.99L235.64 436.92L236.38 436.85L237.12 436.78L237.87 436.71L238.61 436.64L239.36 436.56L240.1 436.49L240.85 436.42L241.59 436.35L242.34 436.28L243.08 436.21L243.83 436.13L244.57 436.06L245.32 435.99L246.06 435.92L246.81 435.85L247.55 435.78L248.3 435.7L249.04 435.63L249.79 435.56L250.53 435.49L251.28 435.42L252.02 435.35L252.76 435.27L253.51 435.2L254.25 435.13L255 435.06L255.74 434.99L256.49 434.92L257.23 434.84L257.98 434.77L258.72 434.7L259.47 434.63L260.21 434.56L260.96 434.49L261.7 434.41L262.45 434.34L263.19 434.27L263.94 434.2L264.68 434.13L265.43 434.06L266.17 433.98L266.92 433.91L267.66 433.84L268.4 433.77L269.15 433.7L269.89 433.63L270.64 433.55L271.38 433.48L272.13 433.41L272.87 433.34L273.62 433.27L274.36 433.2L275.11 433.12L275.85 433.05L276.6 432.98L277.34 432.91L278.09 432.84L278.83 432.77L279.58 432.69L280.32 432.62L281.07 432.55L281.81 432.48L282.55 432.41L283.3 432.34L284.04 432.26L284.79 432.19L285.53 432.12L286.28 432.05L287.02 431.98L287.77 431.91L288.51 431.83L289.26 431.76L290 431.69L290.75 431.62L291.49 431.55L292.24 431.48L292.98 431.4L293.73 431.33L294.47 431.26L295.22 431.19L295.96 431.12L296.71 431.05L297.45 430.97L298.19 430.9L298.94 430.83L299.68 430.76L300.43 430.69L301.17 430.62L301.92 430.54L302.66 430.47L303.41 430.4L304.15 430.33L304.9 430.26L305.64 430.19L306.39 430.11L307.13 430.04L307.88 429.97L308.62 429.9L309.37 429.83L310.11 429.76L310.86 429.68L311.6 429.61" fill="none" stroke="#0c0c0c" stroke-width="1.15" stroke-linejoin="round"/>
<circle cx="222.23" cy="437.14" r="1.5" fill="#0c0c0c"/>
<circle cx="232.16" cy="441.97" r="1.5" fill="#0c0c0c"/>
<circle cx="242.09" cy="434.99" r="1.5" fill="#0c0c0c"/>
<circle cx="252.02" cy="430.15" r="1.5" fill="#0c0c0c"/>
<circle cx="261.95" cy="434.45" r="1.5" fill="#0c0c0c"/>
<circle cx="271.88" cy="436.06" r="1.5" fill="#0c0c0c"/>
<circle cx="281.81" cy="434.99" r="1.5" fill="#0c0c0c"/>
<circle cx="291.74" cy="432.3" r="1.5" fill="#0c0c0c"/>
<circle cx="301.67" cy="432.3" r="1.5" fill="#0c0c0c"/>
<circle cx="311.6" cy="428.54" r="1.5" fill="#0c0c0c"/>
<path d="M252.02 426.39V433.91M250.22 426.39h3.6M250.22 433.91h3.6M261.95 431.22V437.67M260.15 431.22h3.6M260.15 437.67h3.6M291.74 430.15V434.45M289.94 430.15h3.6M289.94 434.45h3.6M311.6 425.31V431.76M309.8 425.31h3.6M309.8 431.76h3.6" stroke="#0c0c0c" stroke-width="1.15" fill="none"/>
<text transform="translate(217.5 388.5) scale(.94 1)" class="v">&gt;100</text>
</g>
<g>
<path d="M368.6 372.4V453.5H484.2" fill="none" stroke="#0c0c0c" stroke-width="1.4"/>
<path d="M368.6 376h-3M368.6 386.1h-2M368.6 396.2h-3M368.6 406.3h-2M368.6 416.4h-3M368.6 426.5h-2M368.6 436.6h-3M368.6 446.7h-2" stroke="#0c0c0c" stroke-width="1.3" fill="none"/>
<text transform="translate(361.8 379.8) scale(.92 1)" text-anchor="end" class="t">120</text>
<text transform="translate(361.8 400) scale(.92 1)" text-anchor="end" class="t">80</text>
<text transform="translate(361.8 420.2) scale(.92 1)" text-anchor="end" class="t">40</text>
<text transform="translate(361.8 440.4) scale(.92 1)" text-anchor="end" class="t">0</text>
<path d="M368.6 453.5v3.2M396.5 453.5v3.2M425.3 453.5v3.2M454.1 453.5v3.2M482.9 453.5v3.2" stroke="#0c0c0c" stroke-width="1.3" fill="none"/>
<text transform="translate(368.2 466.9) scale(.92 1)" text-anchor="middle" class="t">-7</text>
<text transform="translate(397 466.9) scale(.92 1)" text-anchor="middle" class="t">-6</text>
<text transform="translate(425.8 466.9) scale(.92 1)" text-anchor="middle" class="t">-5</text>
<text transform="translate(454.6 466.9) scale(.92 1)" text-anchor="middle" class="t">-4</text>
<text transform="translate(483.4 466.9) scale(.92 1)" text-anchor="middle" class="t">-3</text>
<path d="M376.34 436.6L377.06 436.6L377.78 436.6L378.5 436.6L379.22 436.6L379.94 436.6L380.66 436.6L381.38 436.6L382.1 436.6L382.82 436.6L383.54 436.6L384.26 436.6L384.98 436.6L385.7 436.6L386.42 436.6L387.14 436.6L387.86 436.6L388.58 436.6L389.3 436.6L390.02 436.6L390.74 436.6L391.46 436.6L392.18 436.6L392.9 436.6L393.62 436.6L394.34 436.6L395.06 436.6L395.78 436.6L396.5 436.6L397.22 436.6L397.94 436.6L398.66 436.6L399.38 436.6L400.1 436.6L400.82 436.6L401.54 436.6L402.26 436.6L402.98 436.6L403.7 436.6L404.42 436.6L405.14 436.6L405.86 436.6L406.58 436.6L407.3 436.6L408.02 436.6L408.74 436.6L409.46 436.6L410.18 436.6L410.9 436.6L411.62 436.6L412.34 436.6L413.06 436.6L413.78 436.6L414.5 436.6L415.22 436.6L415.94 436.6L416.66 436.6L417.38 436.6L418.1 436.6L418.82 436.6L419.54 436.6L420.26 436.6L420.98 436.6L421.7 436.6L422.42 436.6L423.14 436.6L423.86 436.59L424.58 436.59L425.3 436.59L426.02 436.58L426.74 436.57L427.46 436.56L428.18 436.55L428.9 436.53L429.62 436.5L430.34 436.46L431.06 436.4L431.78 436.32L432.5 436.21L433.22 436.05L433.94 435.82L434.66 435.51L435.38 435.07L436.1 434.46L436.82 433.63L437.54 432.51L438.26 431.01L438.98 429.05L439.7 426.56L440.42 423.51L441.14 419.91L441.86 415.88L442.58 411.6L443.3 407.33L444.02 403.3L444.74 399.7L445.46 396.64L446.18 394.15L446.9 392.2L447.62 390.7L448.34 389.57L449.06 388.74L449.78 388.14L450.5 387.7L451.22 387.39L451.94 387.16L452.66 387L453.38 386.88L454.1 386.8L454.82 386.75L455.54 386.7L456.26 386.68L456.98 386.65L457.7 386.64L458.42 386.63L459.14 386.62L459.86 386.62L460.58 386.61L461.3 386.61L462.02 386.61L462.74 386.61" fill="none" stroke="#0c0c0c" stroke-width="1.1" stroke-linejoin="round"/>
<rect x="374.59" y="434.35" width="3.5" height="3.5" fill="#0c0c0c"/>
<rect x="383.23" y="434.85" width="3.5" height="3.5" fill="#0c0c0c"/>
<rect x="391.87" y="434.35" width="3.5" height="3.5" fill="#0c0c0c"/>
<rect x="400.51" y="432.83" width="3.5" height="3.5" fill="#0c0c0c"/>
<rect x="409.15" y="430.81" width="3.5" height="3.5" fill="#0c0c0c"/>
<rect x="417.79" y="437.38" width="3.5" height="3.5" fill="#0c0c0c"/>
<rect x="426.43" y="434.85" width="3.5" height="3.5" fill="#0c0c0c"/>
<rect x="435.07" y="432.33" width="3.5" height="3.5" fill="#0c0c0c"/>
<rect x="443.71" y="396.47" width="3.5" height="3.5" fill="#0c0c0c"/>
<rect x="452.35" y="385.87" width="3.5" height="3.5" fill="#0c0c0c"/>
<rect x="460.99" y="384.86" width="3.5" height="3.5" fill="#0c0c0c"/>
<path d="M402.26 430.54V438.62M400.26 430.54h4M400.26 438.62h4M410.9 428.02V437.11M408.9 428.02h4M408.9 437.11h4M428.18 433.57V439.63M426.18 433.57h4M426.18 439.63h4M436.82 426.5V441.65M434.82 426.5h4M434.82 441.65h4M454.1 385.6V389.63M452.1 385.6h4M452.1 389.63h4" stroke="#0c0c0c" stroke-width="1.1" fill="none"/>
<text transform="translate(385 386.6) scale(.93 1)" class="v">41</text>
</g>
<g>
<path d="M63.3 476.7V559.2H180" fill="none" stroke="#0c0c0c" stroke-width="1.4"/>
<path d="M63.3 480.3h-3M63.3 492.33h-2M63.3 504.37h-3M63.3 516.4h-2M63.3 528.43h-3M63.3 540.47h-2M63.3 552.5h-3" stroke="#0c0c0c" stroke-width="1.3" fill="none"/>
<text transform="translate(57.9 484.1) scale(.92 1)" text-anchor="end" class="t">120</text>
<text transform="translate(57.9 508.17) scale(.92 1)" text-anchor="end" class="t">80</text>
<text transform="translate(57.9 532.23) scale(.92 1)" text-anchor="end" class="t">40</text>
<text transform="translate(57.9 556.3) scale(.92 1)" text-anchor="end" class="t">0</text>
<path d="M63.3 559.2v3.2M96.1 559.2v3.2M129.5 559.2v3.2M162.9 559.2v3.2" stroke="#0c0c0c" stroke-width="1.3" fill="none"/>
<text transform="translate(61.6 573.2) scale(.92 1)" text-anchor="middle" class="t">-9</text>
<text transform="translate(95 573.2) scale(.92 1)" text-anchor="middle" class="t">-8</text>
<text transform="translate(128.4 573.2) scale(.92 1)" text-anchor="middle" class="t">-7</text>
<text transform="translate(161.8 573.2) scale(.92 1)" text-anchor="middle" class="t">-6</text>
<path d="M72.72 552.02C74.39 552.01 79.4 552.1 82.74 551.96C86.08 551.82 89.42 551.77 92.76 551.18C96.1 550.58 99.44 549.59 102.78 548.41C106.12 547.23 109.46 546.66 112.8 544.08C116.14 541.49 119.48 537.86 122.82 532.89C126.16 527.91 129.5 520.24 132.84 514.23C136.18 508.23 139.52 500.58 142.86 496.85C146.2 493.12 149.54 492.98 152.88 491.85C156.22 490.73 161.23 490.4 162.9 490.11" fill="none" stroke="#0c0c0c" stroke-width="1.15" stroke-linejoin="round"/>
<circle cx="72.72" cy="551.9" r="1.65" fill="#0c0c0c"/>
<circle cx="82.74" cy="553.7" r="1.65" fill="#0c0c0c"/>
<circle cx="92.76" cy="551.3" r="1.65" fill="#0c0c0c"/>
<circle cx="102.78" cy="547.09" r="1.65" fill="#0c0c0c"/>
<circle cx="112.8" cy="544.08" r="1.65" fill="#0c0c0c"/>
<circle cx="122.82" cy="532.64" r="1.65" fill="#0c0c0c"/>
<circle cx="132.84" cy="514.6" r="1.65" fill="#0c0c0c"/>
<circle cx="142.86" cy="495.94" r="1.65" fill="#0c0c0c"/>
<circle cx="152.88" cy="491.73" r="1.65" fill="#0c0c0c"/>
<circle cx="162.9" cy="491.13" r="1.65" fill="#0c0c0c"/>
<path d="M72.72 546.48V557.31M70.92 546.48h3.6M70.92 557.31h3.6M82.74 551.3V556.11M80.94 551.3h3.6M80.94 556.11h3.6M92.76 545.88V556.71M90.96 545.88h3.6M90.96 556.71h3.6M102.78 545.28V548.89M100.98 545.28h3.6M100.98 548.89h3.6M112.8 541.67V546.48M111 541.67h3.6M111 546.48h3.6M122.82 530.84V534.45M121.02 530.84h3.6M121.02 534.45h3.6M132.84 509.78V519.41M131.04 509.78h3.6M131.04 519.41h3.6" stroke="#0c0c0c" stroke-width="1.15" fill="none"/>
<text transform="translate(76 491.8) scale(.94 1)" class="v">0.095</text>
</g>
<g>
<path d="M213.2 477.6V559.5H330.5" fill="none" stroke="#0c0c0c" stroke-width="1.4"/>
<path d="M213.2 481.2h-3M213.2 492.23h-2M213.2 503.27h-3M213.2 514.3h-2M213.2 525.33h-3M213.2 536.37h-2M213.2 547.4h-3M213.2 558.43h-2" stroke="#0c0c0c" stroke-width="1.3" fill="none"/>
<text transform="translate(206.4 485) scale(.92 1)" text-anchor="end" class="t">120</text>
<text transform="translate(206.4 507.07) scale(.92 1)" text-anchor="end" class="t">80</text>
<text transform="translate(206.4 529.13) scale(.92 1)" text-anchor="end" class="t">40</text>
<text transform="translate(206.4 551.2) scale(.92 1)" text-anchor="end" class="t">0</text>
<path d="M213.2 559.5v3.2M241.85 559.5v3.2M270.9 559.5v3.2M299.95 559.5v3.2M329 559.5v3.2" stroke="#0c0c0c" stroke-width="1.3" fill="none"/>
<text transform="translate(211.2 572.7) scale(.92 1)" text-anchor="middle" class="t">-7</text>
<text transform="translate(240.25 572.7) scale(.92 1)" text-anchor="middle" class="t">-6</text>
<text transform="translate(269.3 572.7) scale(.92 1)" text-anchor="middle" class="t">-5</text>
<text transform="translate(298.35 572.7) scale(.92 1)" text-anchor="middle" class="t">-4</text>
<text transform="translate(327.4 572.7) scale(.92 1)" text-anchor="middle" class="t">-3</text>
<path d="M221.52 552.53C222.97 552.59 227.32 552.76 230.23 552.86C233.13 552.96 236.04 553.19 238.95 553.14C241.85 553.08 244.76 552.98 247.66 552.53C250.57 552.08 253.47 551.79 256.38 550.43C259.28 549.07 262.19 547.5 265.09 544.37C268 541.23 270.9 536.17 273.81 531.62C276.71 527.07 279.62 520.75 282.52 517.06C285.43 513.37 288.33 511.37 291.24 509.5C294.14 507.63 298.5 506.47 299.95 505.86" fill="none" stroke="#0c0c0c" stroke-width="1.1" stroke-linejoin="round"/>
<circle cx="221.52" cy="552.92" r="1.65" fill="#0c0c0c"/>
<circle cx="230.23" cy="552.64" r="1.65" fill="#0c0c0c"/>
<circle cx="238.94" cy="553.47" r="1.65" fill="#0c0c0c"/>
<circle cx="247.66" cy="555.12" r="1.65" fill="#0c0c0c"/>
<circle cx="256.38" cy="550.16" r="1.65" fill="#0c0c0c"/>
<circle cx="265.09" cy="544.64" r="1.65" fill="#0c0c0c"/>
<circle cx="273.81" cy="531.4" r="1.65" fill="#0c0c0c"/>
<circle cx="282.52" cy="515.4" r="1.65" fill="#0c0c0c"/>
<circle cx="291.24" cy="512.64" r="1.65" fill="#0c0c0c"/>
<circle cx="299.95" cy="503.82" r="1.65" fill="#0c0c0c"/>
<path d="M230.23 549.33V555.95M228.43 549.33h3.6M228.43 555.95h3.6M247.66 551.81V558.43M245.86 551.81h3.6M245.86 558.43h3.6M265.09 539.68V549.61M263.29 539.68h3.6M263.29 549.61h3.6M273.81 526.99V535.81M272 526.99h3.6M272 535.81h3.6M291.24 510.44V514.85M289.44 510.44h3.6M289.44 514.85h3.6" stroke="#0c0c0c" stroke-width="1.1" fill="none"/>
<text transform="translate(232 491.8) scale(.93 1)" class="v">14</text>
</g>
<g>
<path d="M368.9 477.4V559.6H484.4" fill="none" stroke="#0c0c0c" stroke-width="1.4"/>
<path d="M368.9 481h-3M368.9 493.02h-2M368.9 505.03h-3M368.9 517.05h-2M368.9 529.07h-3M368.9 541.08h-2M368.9 553.1h-3" stroke="#0c0c0c" stroke-width="1.3" fill="none"/>
<text transform="translate(362.1 484.8) scale(.92 1)" text-anchor="end" class="t">120</text>
<text transform="translate(362.1 508.83) scale(.92 1)" text-anchor="end" class="t">80</text>
<text transform="translate(362.1 532.87) scale(.92 1)" text-anchor="end" class="t">40</text>
<text transform="translate(362.1 556.9) scale(.92 1)" text-anchor="end" class="t">0</text>
<path d="M368.9 559.6v3.2M397.15 559.6v3.2M426.2 559.6v3.2M455.25 559.6v3.2M484.3 559.6v3.2" stroke="#0c0c0c" stroke-width="1.3" fill="none"/>
<text transform="translate(367.2 572.6) scale(.92 1)" text-anchor="middle" class="t">-7</text>
<text transform="translate(396.25 572.6) scale(.92 1)" text-anchor="middle" class="t">-6</text>
<text transform="translate(425.3 572.6) scale(.92 1)" text-anchor="middle" class="t">-5</text>
<text transform="translate(454.35 572.6) scale(.92 1)" text-anchor="middle" class="t">-4</text>
<text transform="translate(483.4 572.6) scale(.92 1)" text-anchor="middle" class="t">-3</text>
<path d="M376.81 551.9L377.54 551.9L378.27 551.9L378.99 551.9L379.72 551.9L380.45 551.89L381.17 551.89L381.9 551.89L382.62 551.89L383.35 551.89L384.08 551.89L384.8 551.89L385.53 551.89L386.26 551.89L386.98 551.89L387.71 551.89L388.44 551.89L389.16 551.89L389.89 551.88L390.61 551.88L391.34 551.88L392.07 551.88L392.79 551.88L393.52 551.88L394.25 551.87L394.97 551.87L395.7 551.87L396.42 551.86L397.15 551.86L397.88 551.86L398.6 551.85L399.33 551.85L400.06 551.84L400.78 551.83L401.51 551.83L402.23 551.82L402.96 551.81L403.69 551.8L404.41 551.79L405.14 551.78L405.87 551.76L406.59 551.75L407.32 551.73L408.04 551.71L408.77 551.69L409.5 551.67L410.22 551.65L410.95 551.62L411.68 551.59L412.4 551.56L413.13 551.52L413.85 551.48L414.58 551.43L415.31 551.38L416.03 551.33L416.76 551.26L417.49 551.19L418.21 551.12L418.94 551.03L419.66 550.94L420.39 550.84L421.12 550.73L421.84 550.6L422.57 550.46L423.3 550.31L424.02 550.14L424.75 549.95L425.47 549.75L426.2 549.52L426.93 549.27L427.65 549L428.38 548.69L429.11 548.36L429.83 548L430.56 547.6L431.28 547.16L432.01 546.68L432.74 546.16L433.46 545.6L434.19 544.98L434.92 544.31L435.64 543.58L436.37 542.79L437.09 541.94L437.82 541.03L438.55 540.05L439.27 539L440 537.89L440.73 536.7L441.45 535.44L442.18 534.12L442.9 532.72L443.63 531.27L444.36 529.75L445.08 528.18L445.81 526.55L446.54 524.89L447.26 523.19L447.99 521.46L448.71 519.71L449.44 517.95L450.17 516.19L450.89 514.45L451.62 512.72L452.35 511.02L453.07 509.35L453.8 507.73L454.52 506.15L455.25 504.64L455.98 503.18L456.7 501.79L457.43 500.46L458.16 499.2L458.88 498.01L459.61 496.9L460.33 495.85L461.06 494.87L461.79 493.96L462.51 493.11L463.24 492.32L463.97 491.6" fill="none" stroke="#0c0c0c" stroke-width="1.2" stroke-linejoin="round"/>
<rect x="375.02" y="552.51" width="3.59" height="3.59" fill="#0c0c0c"/>
<rect x="383.74" y="549.5" width="3.59" height="3.59" fill="#0c0c0c"/>
<rect x="392.45" y="551.91" width="3.59" height="3.59" fill="#0c0c0c"/>
<rect x="401.17" y="546.5" width="3.59" height="3.59" fill="#0c0c0c"/>
<rect x="409.88" y="548.3" width="3.59" height="3.59" fill="#0c0c0c"/>
<rect x="418.6" y="550.71" width="3.59" height="3.59" fill="#0c0c0c"/>
<rect x="427.31" y="544.7" width="3.59" height="3.59" fill="#0c0c0c"/>
<rect x="436.03" y="540.49" width="3.59" height="3.59" fill="#0c0c0c"/>
<rect x="444.74" y="521.26" width="3.59" height="3.59" fill="#0c0c0c"/>
<rect x="453.46" y="503.84" width="3.59" height="3.59" fill="#0c0c0c"/>
<rect x="462.17" y="491.22" width="3.59" height="3.59" fill="#0c0c0c"/>
<path d="M376.81 551.9V556.71M374.81 551.9h4M374.81 556.71h4M394.25 551.9V555.5M392.25 551.9h4M392.25 555.5h4M402.96 545.29V551.3M400.96 545.29h4M400.96 551.3h4M411.68 546.49V553.7M409.68 546.49h4M409.68 553.7h4M420.39 549.5V555.5M418.39 549.5h4M418.39 555.5h4M437.82 538.08V546.49M435.82 538.08h4M435.82 546.49h4M455.25 503.83V507.44M453.25 503.83h4M453.25 507.44h4" stroke="#0c0c0c" stroke-width="1.2" fill="none"/>
<text transform="translate(385 491.2) scale(.93 1)" class="v">59</text>
</g>
<text x="122.1" y="589.5" text-anchor="middle" class="xl">Log<tspan class="xs" dy="3.6">10</tspan><tspan dy="-3.6"> [I, M]</tspan></text>
<text x="273.6" y="589.5" text-anchor="middle" class="xl">Log<tspan class="xs" dy="3.6">10</tspan><tspan dy="-3.6"> [I, M]</tspan></text>
<text x="429.9" y="590.4" text-anchor="middle" class="xl">Log<tspan class="xs" dy="3.6">10</tspan><tspan dy="-3.6"> [I, M]</tspan></text>
</svg></body></html>
